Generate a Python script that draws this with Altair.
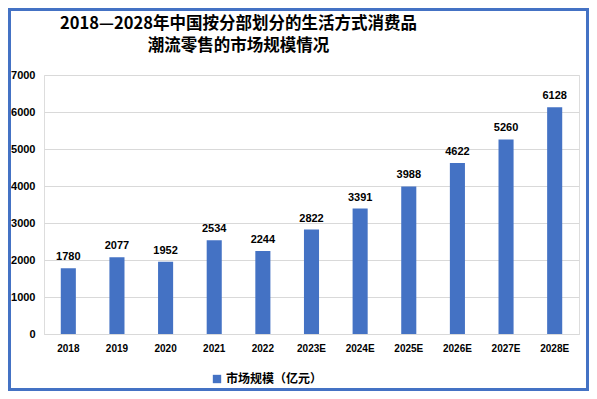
import altair as alt
import pandas as pd

years = ["2018", "2019", "2020", "2021", "2022", "2023E", "2024E", "2025E", "2026E", "2027E", "2028E"]
values = [1780, 2077, 1952, 2534, 2244, 2822, 3391, 3988, 4622, 5260, 6128]
y_ticks = [0, 1000, 2000, 3000, 4000, 5000, 6000, 7000]
series = "市场规模（亿元）"
title_lines = ["2018—2028年中国按分部划分的生活方式消费品", "潮流零售的市场规模情况"]

df = pd.DataFrame({"year": years, "value": values, "series": [series] * len(years)})

W, H = 535, 259
PL, PT, PR, PB = 36, 67, 10, 57
BLUE = "#4472C4"
FONT = "Liberation Sans"

x_axis = alt.Axis(labelAngle=0, labelFont=FONT, labelFontSize=10, labelFontWeight="bold",
                  labelColor="#000000", ticks=False, domain=True, domainColor="#d9d9d9",
                  labelPadding=9, grid=False)
y_axis = alt.Axis(values=y_ticks, format="d", labelOverlap=False, tickCount=8,
                  labelFont=FONT, labelFontSize=11, labelFontWeight="bold", labelColor="#000000",
                  ticks=False, domain=False, gridColor="#d9d9d9", labelPadding=9)
x_enc = alt.X("year:N", sort=years, title=None,
              scale=alt.Scale(paddingInner=0.69, paddingOuter=0.345), axis=x_axis)
y_enc = alt.Y("value:Q", title=None, scale=alt.Scale(domain=[0, 7000], nice=False), axis=y_axis)

base = alt.Chart(df)

bars = base.mark_bar(color=BLUE).encode(
    x=x_enc,
    y=y_enc,
    color=alt.Color("series:N", scale=alt.Scale(domain=[series], range=[BLUE]),
                    legend=alt.Legend(title=None, orient="none", legendX=167, legendY=298,
                                      symbolType="square", symbolSize=70, symbolStrokeWidth=0,
                                      labelFont="Noto Sans CJK SC", labelFontSize=12,
                                      labelFontWeight="bold", labelColor="#000000", labelOffset=3)),
)

labels = base.mark_text(baseline="bottom", dy=-6, font=FONT, fontSize=11, fontWeight="bold",
                        color="#000000").encode(
    x=x_enc,
    y=y_enc,
    text=alt.Text("value:Q"),
)

border = alt.Chart(pd.DataFrame({"a": [0]})).mark_rect(
    fill="white", fillOpacity=0, stroke=BLUE, strokeWidth=3
).encode(
    x=alt.value(-PL + 1.5), x2=alt.value(W + PR - 1.5),
    y=alt.value(-PT + 1.5), y2=alt.value(H + PB - 1.5),
)

chart = alt.layer(bars, labels, border).properties(
    width=W, height=H,
    autosize=alt.AutoSizeParams(type="none"),
    padding={"left": PL, "top": PT, "right": PR, "bottom": PB},
    title=alt.TitleParams(text=title_lines, font="Noto Sans CJK SC", fontSize=16.5,
                          fontWeight="bold", color="#000000", anchor="middle", dx=-73,
                          offset=-46, lineHeight=22),
).configure_view(stroke="transparent").configure(background="white")

chart.save("out.html", embed_options={"renderer": "svg", "actions": False})
